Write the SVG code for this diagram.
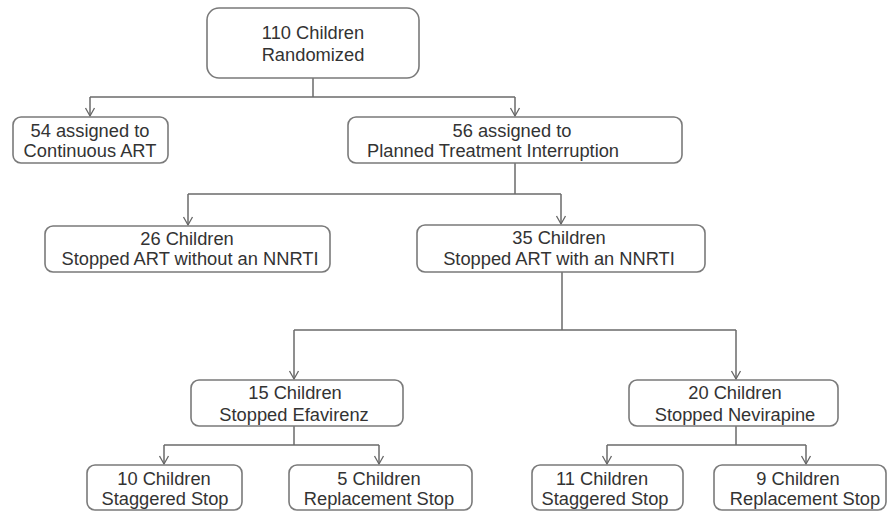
<svg xmlns="http://www.w3.org/2000/svg" width="890" height="513" viewBox="0 0 890 513">
<defs>
<marker id="arr" markerWidth="12" markerHeight="12" refX="10" refY="6" orient="auto" markerUnits="userSpaceOnUse" viewBox="0 0 12 12">
<path d="M2,1.5 L10,6 L2,10.5" fill="none" stroke="#666" stroke-width="1.3"/>
</marker>
</defs>
<style>
.box{fill:#fff;stroke:#7a7a7a;stroke-width:1.6}
.t{font-family:"Liberation Sans",Arial,sans-serif;font-size:18.3px;fill:#333;text-anchor:middle}
.s{text-anchor:start}
.c{fill:none;stroke:#6a6a6a;stroke-width:1.5}
</style>
<rect width="890" height="513" fill="#fff"/>
<g id="connectors">
<path class="c" d="M313,78 V97"/>
<path class="c" d="M90,97 H515"/>
<path class="c" d="M90,97 V116" marker-end="url(#arr)"/>
<path class="c" d="M515,97 V116" marker-end="url(#arr)"/>
<path class="c" d="M515,163 V194"/>
<path class="c" d="M188,194 H561"/>
<path class="c" d="M188,194 V225" marker-end="url(#arr)"/>
<path class="c" d="M561,194 V224" marker-end="url(#arr)"/>
<path class="c" d="M562,272 V330"/>
<path class="c" d="M294,330 H736"/>
<path class="c" d="M294,330 V379" marker-end="url(#arr)"/>
<path class="c" d="M736,330 V379" marker-end="url(#arr)"/>
<path class="c" d="M294,426 V445"/>
<path class="c" d="M164,445 H379"/>
<path class="c" d="M164,445 V464" marker-end="url(#arr)"/>
<path class="c" d="M379,445 V464" marker-end="url(#arr)"/>
<path class="c" d="M736,426 V445"/>
<path class="c" d="M607,445 H806"/>
<path class="c" d="M607,445 V464" marker-end="url(#arr)"/>
<path class="c" d="M806,445 V464" marker-end="url(#arr)"/>
</g>
<g id="n110">
<rect class="box" x="207" y="8" width="212" height="70" rx="12"/>
<text class="t" x="313" y="39">110 Children</text>
<text class="t" x="313" y="61">Randomized</text>
</g>
<g id="n54">
<rect class="box" x="13" y="117" width="155" height="46" rx="8"/>
<text class="t" x="90" y="137">54 assigned to</text>
<text class="t" x="90" y="157">Continuous ART</text>
</g>
<g id="n56">
<rect class="box" x="348" y="117" width="334" height="46" rx="8"/>
<text class="t" x="512" y="137">56 assigned to</text>
<text class="t s" x="367" y="157">Planned Treatment Interruption</text>
</g>
<g id="n26">
<rect class="box" x="45" y="226" width="285" height="46" rx="8"/>
<text class="t" x="187" y="245">26 Children</text>
<text class="t" x="190" y="265">Stopped ART without an NNRTI</text>
</g>
<g id="n35">
<rect class="box" x="417" y="225" width="288" height="47" rx="8"/>
<text class="t" x="559" y="244">35 Children</text>
<text class="t" x="559" y="265">Stopped ART with an NNRTI</text>
</g>
<g id="n15">
<rect class="box" x="191" y="380" width="212" height="46" rx="8"/>
<text class="t" x="295" y="399">15 Children</text>
<text class="t" x="294" y="421">Stopped Efavirenz</text>
</g>
<g id="n20">
<rect class="box" x="629" y="380" width="209" height="46" rx="8"/>
<text class="t" x="735" y="399">20 Children</text>
<text class="t" x="735" y="421">Stopped Nevirapine</text>
</g>
<g id="n10">
<rect class="box" x="87" y="465" width="155" height="45" rx="8"/>
<text class="t" x="164" y="485">10 Children</text>
<text class="t" x="165" y="505">Staggered Stop</text>
</g>
<g id="n5">
<rect class="box" x="289" y="465" width="183" height="45" rx="8"/>
<text class="t" x="379" y="485">5 Children</text>
<text class="t" x="379" y="505">Replacement Stop</text>
</g>
<g id="n11">
<rect class="box" x="532" y="465" width="151" height="45" rx="8"/>
<text class="t" x="602" y="485">11 Children</text>
<text class="t" x="605" y="505">Staggered Stop</text>
</g>
<g id="n9">
<rect class="box" x="714" y="465" width="172" height="45" rx="8"/>
<text class="t" x="798" y="485">9 Children</text>
<text class="t" x="805" y="505">Replacement Stop</text>
</g>
</svg>
